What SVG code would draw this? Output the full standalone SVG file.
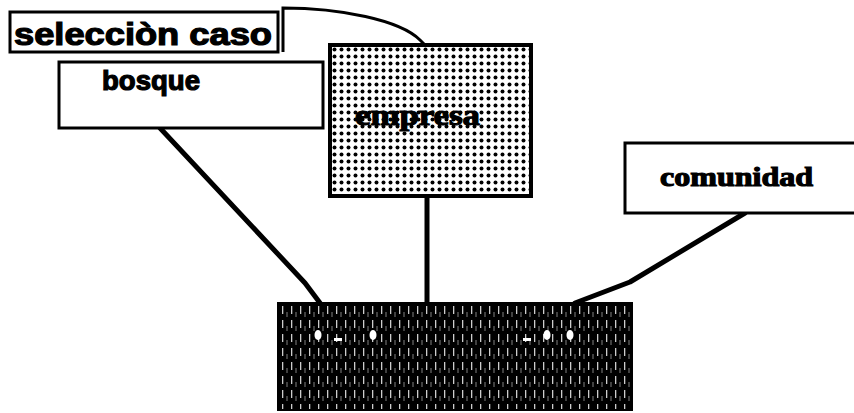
<svg xmlns="http://www.w3.org/2000/svg" width="854" height="413" viewBox="0 0 854 413">
<style>
.box{fill:#fff;stroke:#000;stroke-width:3}
.conn{fill:none;stroke:#000;stroke-width:5;stroke-linecap:round;stroke-linejoin:round}
.sans{font-family:"Liberation Sans",Arial,sans-serif;font-weight:bold;fill:#000;stroke:#000;stroke-width:1.2}
.serif{font-family:"Liberation Serif","Times New Roman",serif;font-weight:bold;fill:#000;stroke:#000;stroke-width:1.2}
</style>
<defs>
<pattern id="dots" x="331" y="46" width="7" height="7" patternUnits="userSpaceOnUse">
<rect width="7" height="7" fill="#fff"/>
<circle cx="3.5" cy="3.5" r="2" fill="#000"/>
</pattern>
<pattern id="streaks" x="280" y="305" width="9" height="14" patternUnits="userSpaceOnUse">
<rect width="9" height="14" fill="#000"/>
<rect x="2" y="1" width="1.3" height="8" fill="#fff" opacity="0.8"/>
<rect x="6.5" y="7" width="1" height="5" fill="#fff" opacity="0.5"/>
</pattern>
</defs>
<g id="connectors">
<polyline class="conn" points="160,128 305,283 320,303"/>
<line class="conn" x1="427" y1="197" x2="427" y2="303"/>
<polyline class="conn" points="745,213 630,282 575,303"/>
<path d="M283,52 L283,8 C340,8 400,20 420,40 L428,48 L428,60 L432,64 L428,70 L432,76 L428,82 L430,88" fill="none" stroke="#000" stroke-width="3"/>
</g>
<g id="seleccion">
<rect class="box" x="10" y="12" width="268" height="40"/>
<text class="sans" x="14" y="45" font-size="31" textLength="258" lengthAdjust="spacingAndGlyphs">selecciòn caso</text>
</g>
<g id="bosque">
<rect class="box" x="59" y="62" width="264" height="66"/>
<text class="sans" x="102" y="90" font-size="27" textLength="98" lengthAdjust="spacingAndGlyphs">bosque</text>
</g>
<g id="empresa">
<rect x="330" y="45" width="201" height="151" fill="url(#dots)" stroke="#000" stroke-width="4"/>
<text class="serif" x="355" y="125" font-size="30" textLength="125" lengthAdjust="spacingAndGlyphs" stroke-width="2">empresa</text>
</g>
<g id="comunidad">
<rect class="box" x="625" y="143" width="235" height="70"/>
<text class="serif" x="660" y="186" font-size="28" textLength="153" lengthAdjust="spacingAndGlyphs">comunidad</text>
</g>
<g id="base">
<rect x="278" y="303" width="354" height="107" fill="url(#streaks)" stroke="#000" stroke-width="2"/>
<ellipse cx="318" cy="335" rx="3.5" ry="5" fill="#fff"/>
<rect x="334" y="338" width="8" height="3" fill="#fff"/>
<ellipse cx="373" cy="335" rx="3.5" ry="5" fill="#fff"/>
<rect x="523" y="338" width="8" height="3" fill="#fff"/>
<ellipse cx="547" cy="335" rx="3.5" ry="5" fill="#fff"/>
<ellipse cx="570" cy="335" rx="3.5" ry="5" fill="#fff"/>
</g>
</svg>
